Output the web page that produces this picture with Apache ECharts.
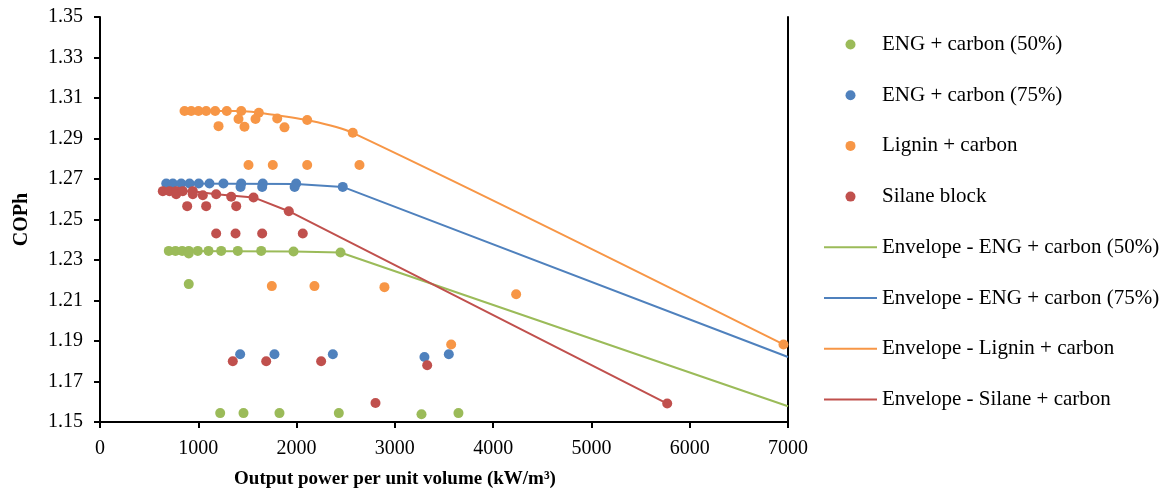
<!DOCTYPE html>
<html><head><meta charset="utf-8">
<script src="https://cdn.jsdelivr.net/npm/echarts@6/dist/echarts.min.js"></script>
<style>html,body{margin:0;padding:0;background:#fff}#c{width:1173px;height:499px}</style>
</head><body><div id="c"></div>
<script>
// ---- tick labels ----
const xTicks = [0, 1000, 2000, 3000, 4000, 5000, 6000, 7000];
const yTicks = [1.15, 1.17, 1.19, 1.21, 1.23, 1.25, 1.27, 1.29, 1.31, 1.33, 1.35];

// ---- series names ----
const names = ['ENG + carbon (50%)', 'ENG + carbon (75%)', 'Lignin + carbon', 'Silane block',
  'Envelope - ENG + carbon (50%)', 'Envelope - ENG + carbon (75%)', 'Envelope - Lignin + carbon', 'Envelope - Silane + carbon'];

// ---- scatter data ----
const eng50X = [700, 768, 836, 903, 903, 995, 1104, 1233, 1402, 1640, 1969, 2447, 903, 1223, 1460, 1826, 2430, 3271, 3647];
const eng50Y = [1.2345, 1.2345, 1.2345, 1.2345, 1.2332, 1.2345, 1.2345, 1.2345, 1.2345, 1.2345, 1.2342, 1.2337, 1.2181, 1.1544, 1.1544, 1.1544, 1.1544, 1.1538, 1.1544];

const eng75X = [674, 741, 826, 911, 1005, 1114, 1256, 1437, 1430, 1656, 1650, 1996, 1980, 2470, 1426, 1775, 2369, 3301, 3549];
const eng75Y = [1.2678, 1.2678, 1.2678, 1.2678, 1.2678, 1.2678, 1.2678, 1.2678, 1.2661, 1.2678, 1.2661, 1.2678, 1.2661, 1.2661, 1.1835, 1.1835, 1.1835, 1.1821, 1.1835];

const ligninX = [860, 928, 1002, 1080, 1172, 1290, 1437, 1616, 1206, 1409, 1470, 1582, 1803, 1877, 2108, 2572, 1511, 1758, 2108, 2640, 1748, 2182, 2894, 4234, 3573, 6954];
const ligninY = [1.3036, 1.3036, 1.3036, 1.3036, 1.3036, 1.3036, 1.3036, 1.3027, 1.2961, 1.2996, 1.2958, 1.2996, 1.2999, 1.2955, 1.2991, 1.2928, 1.2769, 1.2769, 1.2769, 1.2769, 1.2171, 1.2171, 1.2166, 1.2131, 1.1883, 1.1883];

const silaneX = [639, 707, 775, 775, 842, 944, 944, 1046, 1182, 1335, 1562, 1921, 887, 1080, 1386, 1182, 1379, 1650, 2063, 1351, 1691, 2250, 3329, 2803, 5771];
const silaneY = [1.2640, 1.2640, 1.2640, 1.2625, 1.2640, 1.2640, 1.2625, 1.2620, 1.2625, 1.2612, 1.2609, 1.2541, 1.2566, 1.2566, 1.2566, 1.2431, 1.2431, 1.2431, 1.2431, 1.1800, 1.1800, 1.1800, 1.1780, 1.1594, 1.1591];

// ---- envelope data ----
const env50X = [700, 1969, 2447, 7000];
const env50Y = [1.2345, 1.2342, 1.2337, 1.1578];
const env75X = [674, 1996, 2470, 7000];
const env75Y = [1.2678, 1.2675, 1.2661, 1.1821];
const envLigX = [860, 1437, 1616, 2108, 2572, 6954];
const envLigY = [1.3036, 1.3036, 1.3027, 1.2991, 1.2928, 1.1883];
const envSilX = [639, 944, 1182, 1562, 1921, 5771];
const envSilY = [1.2640, 1.2640, 1.2625, 1.2609, 1.2541, 1.1591];

const colors = ['#9BBB59', '#4F81BD', '#F79646', '#C0504D'];
const FONT = 'Liberation Serif';
// legend icon for envelope lines: a 2px-high bar inside a 53x10 box
const LINE_ICON = 'path://M0,0M53,10M0,4L53,4L53,6L0,6Z';

function pairs(xs, ys) { return xs.map((x, i) => [x, ys[i]]); }

const scatterSets = [[eng50X, eng50Y], [eng75X, eng75Y], [ligninX, ligninY], [silaneX, silaneY]];
const envSets = [[env50X, env50Y], [env75X, env75Y], [envLigX, envLigY], [envSilX, envSilY]];

const series = [];
scatterSets.forEach((s, i) => {
  series.push({
    name: names[i], type: 'scatter', data: pairs(s[0], s[1]),
    symbol: 'circle', symbolSize: 10, z: 4,
    itemStyle: { color: colors[i], opacity: 1 }
  });
});
envSets.forEach((s, i) => {
  series.push({
    name: names[4 + i], type: 'line', data: pairs(s[0], s[1]),
    symbol: 'none', showSymbol: false, smooth: i === 2 ? 0.3 : false, z: 3,
    lineStyle: { color: colors[i], width: 2 }, itemStyle: { color: colors[i] }
  });
});

const chart = echarts.init(document.getElementById('c'));
chart.setOption({
  animation: false,
  backgroundColor: '#fff',
  textStyle: { fontFamily: FONT, color: '#000' },
  grid: { left: 100, right: 385, top: 17, bottom: 77 },
  legend: {
    orient: 'vertical', left: 819, top: 29,
    itemWidth: 53, itemHeight: 10, itemGap: 29.7,
    textStyle: { fontFamily: FONT, fontSize: 21, color: '#000', lineHeight: 20 },
    data: names.map((n, i) => i < 4 ? { name: n, icon: 'circle' } : { name: n, icon: LINE_ICON })
  },
  xAxis: {
    type: 'value', min: xTicks[0], max: xTicks[xTicks.length - 1], interval: 1000,
    name: 'Output power per unit volume (kW/m³)', nameLocation: 'middle', nameGap: 48,
    nameTextStyle: { fontFamily: FONT, fontSize: 19, fontWeight: 'bold', color: '#000', padding: [0, 98, 0, 0] },
    axisLine: { show: true, onZero: false, lineStyle: { color: '#000', width: 2 } },
    axisTick: { show: true, inside: false, length: 6, lineStyle: { color: '#000', width: 2 } },
    axisLabel: { fontFamily: FONT, fontSize: 20, color: '#000', margin: 17, formatter: v => String(v) },
    splitLine: { show: false }
  },
  yAxis: [{
    type: 'value', min: yTicks[0], max: yTicks[yTicks.length - 1],
    name: 'COPh', nameLocation: 'middle', nameGap: 68,
    nameTextStyle: { fontFamily: FONT, fontSize: 20, fontWeight: 'bold', color: '#000' },
    axisLine: { show: true, onZero: false, lineStyle: { color: '#000', width: 2 } },
    axisTick: { show: true, inside: false, length: 6, customValues: yTicks, lineStyle: { color: '#000', width: 2 } },
    axisLabel: { fontFamily: FONT, fontSize: 20, color: '#000', margin: 17, customValues: yTicks,
      formatter: v => v.toFixed(2) },
    splitLine: { show: false }
  }, {
    type: 'value', position: 'right', min: yTicks[0], max: yTicks[yTicks.length - 1],
    axisLine: { show: true, onZero: false, lineStyle: { color: '#000', width: 2 } },
    axisTick: { show: false }, axisLabel: { show: false }, splitLine: { show: false }
  }],
  series: series
});
</script></body></html>
